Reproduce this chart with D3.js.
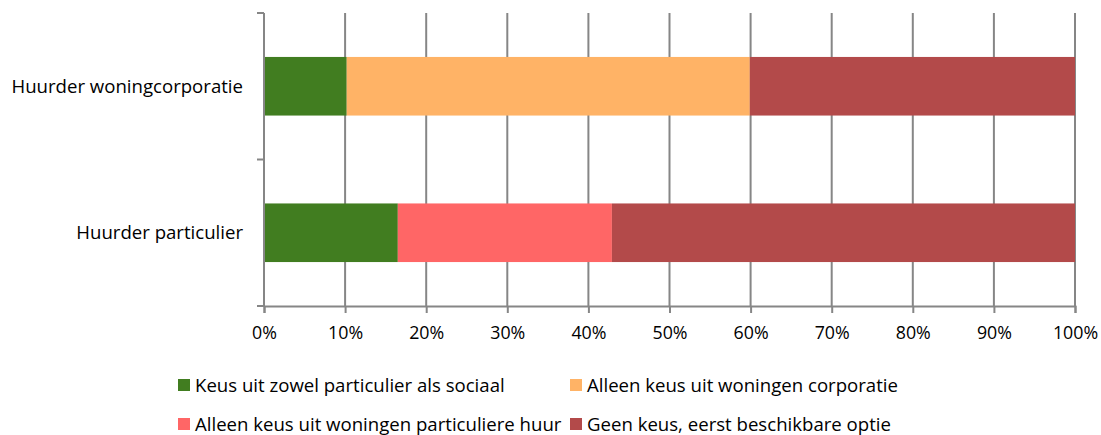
<!DOCTYPE html>
<html>
<head>
<meta charset="utf-8">
<script src="https://cdn.jsdelivr.net/npm/d3@7"></script>
<style>
  body { margin: 0; background: #fff; }
  text { font-family: "Open Sans", "Noto Sans", sans-serif; fill: #000; }
</style>
</head>
<body>
<svg id="chart" width="1101" height="435"></svg>
<script>
// categories (top to bottom)
var categories = ["Huurder woningcorporatie", "Huurder particulier"];
var seriesNames = [
  "Keus uit zowel particulier als sociaal",
  "Alleen keus uit woningen corporatie",
  "Alleen keus uit woningen particuliere huur",
  "Geen keus, eerst beschikbare optie"
];
var seriesColors = ["#417D20", "#FFB366", "#FF6666", "#B34A4A"];
// shares per category, in order of seriesNames
var keusBeide = [0.102, 0.165];
var alleenCorporatie = [0.497, 0];
var alleenParticulier = [0, 0.264];
var geenKeus = [0.401, 0.571];
var tickValues = [0, 0.1, 0.2, 0.3, 0.4, 0.5, 0.6, 0.7, 0.8, 0.9, 1];

var margin = { top: 13, left: 264, right: 26 },
  width = 1101 - margin.left - margin.right,
  height = 306 - margin.top;

var svg = d3.select("#chart")
  .append("g").attr("transform", "translate(" + margin.left + "," + margin.top + ")");

var xScale = d3.scaleLinear().domain([0, 1]).range([0, width]);
var yScale = d3.scaleBand().domain(categories).range([0, height]).paddingInner(0.6).paddingOuter(0.3);

// gridlines
svg.selectAll(".grid").data(tickValues.slice(1)).enter().append("line")
  .attr("x1", d => xScale(d)).attr("x2", d => xScale(d))
  .attr("y1", 0).attr("y2", height)
  .attr("stroke", "#868686").attr("stroke-width", 2);

// stacked bars
var rows = categories.map(function (c, i) {
  return { cat: c, s0: keusBeide[i], s1: alleenCorporatie[i], s2: alleenParticulier[i], s3: geenKeus[i] };
});
var stack = d3.stack().keys(["s0", "s1", "s2", "s3"])(rows);

svg.selectAll(".series").data(stack).enter().append("g")
  .attr("fill", (d, i) => seriesColors[i])
  .selectAll("rect").data(d => d).enter().append("rect")
  .attr("x", d => xScale(d[0]))
  .attr("width", d => xScale(d[1]) - xScale(d[0]))
  .attr("y", d => yScale(d.data.cat))
  .attr("height", yScale.bandwidth());

// y axis line and ticks
svg.append("line").attr("x1", 0).attr("x2", 0).attr("y1", 0).attr("y2", height)
  .attr("stroke", "#868686").attr("stroke-width", 2);
var yTicks = [0, height / 2, height];
svg.selectAll(".ytick").data(yTicks).enter().append("line")
  .attr("x1", -7).attr("x2", 0).attr("y1", d => d).attr("y2", d => d)
  .attr("stroke", "#868686").attr("stroke-width", 2);

// x axis
var xAxis = svg.append("g")
  .attr("transform", "translate(0," + height + ")")
  .call(d3.axisBottom(xScale).tickValues(tickValues).tickFormat(d3.format(".0%")).tickSize(7).tickPadding(13));
xAxis.select(".domain").attr("stroke", "#868686").attr("stroke-width", 2);
xAxis.selectAll(".tick line").attr("stroke", "#868686").attr("stroke-width", 2);
xAxis.selectAll("text").style("font-size", "17.8px").style("font-family", "'Open Sans', sans-serif").attr("fill", "#000");

// category labels
svg.selectAll(".cat").data(categories).enter().append("text")
  .attr("x", -21)
  .attr("y", d => yScale(d) + yScale.bandwidth() / 2)
  .attr("dy", "0.35em")
  .attr("text-anchor", "end")
  .style("font-size", "18.6px")
  .text(d => d);

// legend
var legendPos = [[178, 385], [570, 385], [178, 424], [570, 424]];
var legend = d3.select("#chart").selectAll(".legend").data(seriesNames).enter().append("g")
  .attr("transform", (d, i) => "translate(" + legendPos[i][0] + "," + legendPos[i][1] + ")");
legend.append("rect").attr("x", 0).attr("y", -6).attr("width", 12).attr("height", 12)
  .attr("fill", (d, i) => seriesColors[i]);
legend.append("text").attr("x", 17).attr("y", 0).attr("dy", "0.35em")
  .style("font-size", "18.6px").text(d => d);
</script>
</body>
</html>
